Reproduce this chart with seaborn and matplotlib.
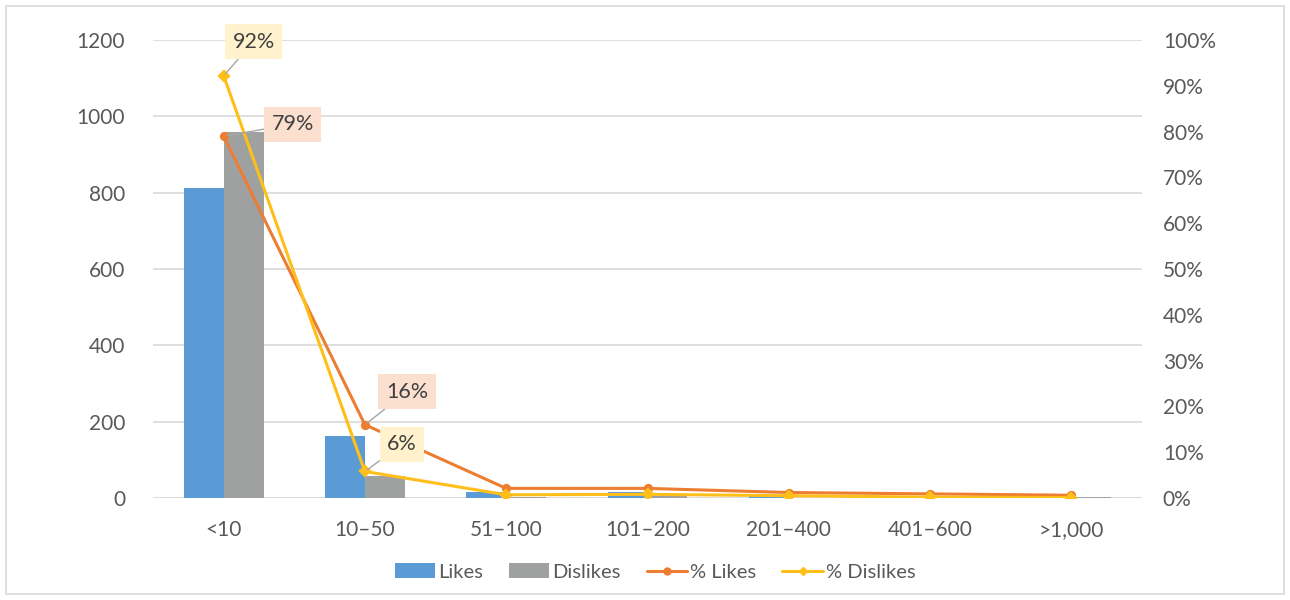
import matplotlib
matplotlib.use("Agg")
import matplotlib.pyplot as plt
from matplotlib.patches import Patch, Rectangle
from matplotlib.lines import Line2D
from matplotlib.ticker import FuncFormatter, MultipleLocator
import seaborn as sns
import pandas as pd

# Counts of posts by number of reactions
categories = ["<10", "10–50", "51–100", "101–200", "201–400", "401–600", ">1,000"]
likes = [812, 163, 17, 16, 4, 2, 1]
dislikes = [958, 57, 3, 4, 1, 1, 3]
pct_likes = [0.79, 0.16, 0.021, 0.021, 0.012, 0.009, 0.006]
pct_dislikes = [0.922, 0.058, 0.007, 0.008, 0.005, 0.002, 0.001]

BLUE = "#5B9BD5"
GRAY = "#9FA1A1"
ORANGE = "#ED7D31"
GOLD = "#FFBF1A"
TEXT = "#595959"
GRID = "#D9D9D9"

sns.set_theme(style="white")
plt.rcParams["font.family"] = ["Lato", "DejaVu Sans"]

counts = pd.DataFrame({
    "cat": categories * 2,
    "value": likes + dislikes,
    "series": ["Likes"] * len(categories) + ["Dislikes"] * len(categories),
})
shares = pd.DataFrame({
    "cat": categories * 2,
    "pct": pct_likes + pct_dislikes,
    "series": ["% Likes"] * len(categories) + ["% Dislikes"] * len(categories),
})

fig = plt.figure(figsize=(12.9, 6.0), dpi=100)
ax = fig.add_axes([153 / 1290, 1 - 498 / 600, (1142 - 153) / 1290, (498 - 40) / 600])

sns.barplot(data=counts, x="cat", y="value", hue="series", order=categories,
            hue_order=["Likes", "Dislikes"], palette=[BLUE, GRAY],
            width=0.566, gap=0, saturation=1, errorbar=None, legend=False,
            linewidth=0, edgecolor="none", ax=ax)

ax.set_ylim(0, 1200)
ax.yaxis.set_major_locator(MultipleLocator(200))
ax.set_xlim(-0.5, len(categories) - 0.5)
ax.set_axisbelow(True)
ax.grid(axis="y", color=GRID, linewidth=1.2)
ax.grid(axis="x", visible=False)
for s in ax.spines.values():
    s.set_visible(False)
ax.axhline(0, color=GRID, linewidth=1.2, zorder=0.5)
ax.set_xlabel("")
ax.set_ylabel("")
ax.tick_params(axis="both", length=0, labelsize=15, labelcolor=TEXT)
ax.tick_params(axis="y", pad=20)
ax.tick_params(axis="x", pad=16)

ax2 = ax.twinx()
sns.pointplot(data=shares, x="cat", y="pct", hue="series", order=categories,
              hue_order=["% Likes", "% Dislikes"], palette=[ORANGE, GOLD],
              markers=["o", "D"], linestyles=["-", "-"], errorbar=None,
              markersize=5, linewidth=2.2, legend=False, ax=ax2)
ax2.set_ylim(0, 1.0)
ax2.set_xlim(-0.5, len(categories) - 0.5)
ax2.yaxis.set_major_locator(MultipleLocator(0.1))
ax2.yaxis.set_major_formatter(FuncFormatter(lambda v, _: f"{v * 100:.0f}%"))
ax2.grid(False)
for s in ax2.spines.values():
    s.set_visible(False)
ax2.set_ylabel("")
ax2.set_xlabel("")
ax2.tick_params(axis="y", length=0, labelsize=15, labelcolor=TEXT, pad=15)

# Data labels for the first two categories
def label(i, values, fill, dx, dy):
    ax2.annotate(f"{values[i] * 100:.0f}%", xy=(i, values[i]),
                 xytext=(dx, dy), textcoords="offset pixels",
                 ha="center", va="center", fontsize=15.5, color="#404040",
                 bbox=dict(boxstyle="square,pad=0.35", fc=fill, ec="none"),
                 arrowprops=dict(arrowstyle="-", color="#A6A6A6", lw=1,
                                 shrinkA=0, shrinkB=2),
                 zorder=10)

label(0, pct_dislikes, "#FFF2CC", 30, 34)
label(0, pct_likes, "#FBE0D0", 69, 12)
label(1, pct_likes, "#FBE0D0", 42, 33)
label(1, pct_dislikes, "#FFF2CC", 37, 27)

handles = [
    Patch(facecolor=BLUE, edgecolor="none", label="Likes"),
    Patch(facecolor=GRAY, edgecolor="none", label="Dislikes"),
    Line2D([], [], color=ORANGE, lw=2.2, marker="o", markersize=5, label="% Likes"),
    Line2D([], [], color=GOLD, lw=2.2, marker="D", markersize=4.5, label="% Dislikes"),
]
leg = fig.legend(handles=handles, loc="center", bbox_to_anchor=(655 / 1290, 1 - 572 / 600),
                 ncol=4, frameon=False, fontsize=14.5, handlelength=2.0,
                 handleheight=0.7, handletextpad=0.15, columnspacing=1.3)
for t in leg.get_texts():
    t.set_color(TEXT)

fig.patches.append(Rectangle((6 / 1290, 6 / 600), 1278 / 1290, 588 / 600,
                             transform=fig.transFigure, fill=False,
                             edgecolor=GRID, linewidth=1.2))

fig.savefig("out.png", dpi=100, facecolor="white")
